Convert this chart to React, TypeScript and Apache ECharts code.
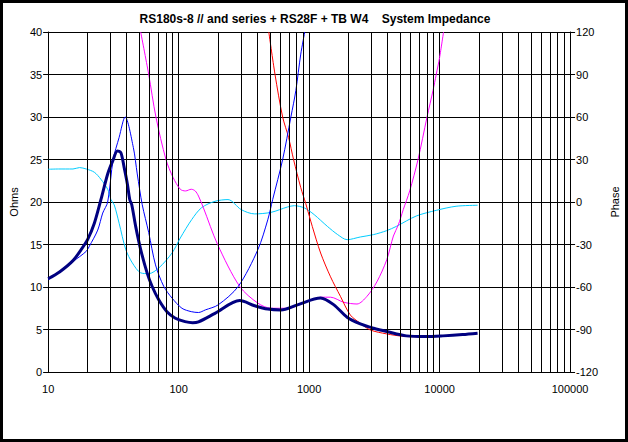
import React, { useEffect, useRef } from "react";
import * as echarts from "echarts";

const titleText = "RS180s-8 // and series + RS28F + TB W4    System Impedance";
const ohmsTicks = { min: 0, max: 40, interval: 5 };
const phaseTicks = { min: -120, max: 120, interval: 30 };
const minorGridFreqs = [
  20, 30, 40, 50, 60, 70, 80, 90,
  200, 300, 400, 500, 600, 700, 800, 900,
  2000, 3000, 4000, 5000, 6000, 7000, 8000, 9000,
  20000, 30000, 40000, 50000, 60000, 70000, 80000, 90000,
];

// System impedance (navy, thick) [Hz, ohms]
const systemImpedance = [
  [10, 10.97], [12.3, 11.8], [15.5, 13.1], [17.9, 14.4], [20.1, 15.6], [22.6, 17.5],
  [25.4, 20.3], [28.6, 23.3], [31.2, 24.8], [34, 26.0], [36.1, 25.8], [38.2, 24.1],
  [40.5, 22.1], [42.2, 20.3], [43.7, 19.7], [46.9, 17.1], [51.2, 14.4], [57.5, 11.6],
  [62.7, 10.06], [70.4, 8.5], [81.4, 7.1], [94.4, 6.33], [112, 5.93], [128, 5.8],
  [142, 5.9], [190, 6.9], [294, 8.4], [382, 7.8], [482, 7.4], [608, 7.3], [814, 7.9],
  [1225, 8.7], [1549, 7.9], [1955, 6.45], [2467, 5.66], [3121, 5.15], [3935, 4.76],
  [5570, 4.25], [7900, 4.17], [10600, 4.25], [15000, 4.4], [19550, 4.56],
];

// Woofer impedance (blue, thin)
const wooferImpedance = [
  [10, 10.85], [15.5, 13.0], [19.6, 14.2], [20.7, 14.8], [24, 16.7], [26.2, 18.7],
  [28.6, 20.0], [31.5, 25.0], [35, 27.6], [38.9, 30.0], [45, 26.4], [48.2, 23.3],
  [52.6, 19.7], [59, 16.4], [66.5, 12.6], [77, 10.06], [89, 8.7], [106, 7.5],
  [125, 7.1], [142, 7.0], [160, 7.3], [201, 7.9], [286, 10.06], [405, 14.4],
  [482, 17.9], [526, 20.3], [627, 25.0], [725, 30.0], [791, 33.1], [863, 37.4], [926, 40],
];

// Tweeter impedance (red)
const tweeterImpedance = [
  [491, 40], [548, 35], [627, 30], [696, 27.6], [760, 25.0], [863, 21.7], [943, 19.8],
  [1059, 17.1], [1225, 14.0], [1459, 11.2], [1738, 8.9], [2071, 6.7], [2467, 5.74],
  [2938, 4.95], [3935, 4.48], [5265, 4.2], [7030, 4.15], [8000, 4.15],
];

// Third branch impedance (magenta)
const midImpedance = [
  [51.2, 40], [59, 35], [67, 30], [80, 25], [90.6, 22.9], [103, 21.5], [113, 21.3],
  [125, 21.5], [134, 21.3], [142, 20.7], [155, 19.3], [199, 15.0], [294, 10.06],
  [405, 8.1], [511, 7.5], [684, 7.5], [970, 8.3], [1225, 8.8], [1459, 8.8],
  [1845, 8.2], [2328, 8.0], [2775, 8.9], [3305, 10.6], [3935, 13.2], [4426, 16.0],
  [4826, 17.3], [5265, 19.1], [5900, 21.3], [6834, 25.0], [8013, 30.0], [8898, 33.1],
  [9424, 35.0], [10000, 37.0], [10720, 40],
];

// System phase (cyan) [Hz, degrees]
const systemPhase = [
  [10, 23.1], [12, 23.3], [15.5, 23.3], [17.4, 24.3], [19.6, 23.3], [22.6, 21],
  [25.4, 16], [28.6, 9], [30.3, 1.7], [32.1, -2], [35, -15], [39.4, -33.7],
  [44.2, -43], [51.2, -50], [59, -50.6], [70.4, -46.6], [89, -36], [103, -25.4],
  [126, -12.4], [150, -4], [190, 0.5], [239, 1.7], [302, -5.4], [382, -8.4],
  [511, -7.3], [684, -3.5], [770, -2.6], [920, -4.2], [1093, -8.9], [1380, -17.2],
  [1655, -23], [1955, -26.6], [2467, -24.7], [3121, -23], [3935, -20.2], [4665, -17.2],
  [6620, -9.9], [9424, -5.9], [13370, -3], [19550, -2.3],
];

const FONT = "'Liberation Sans', Arial, sans-serif";

export default function App() {
  const ref = useRef<HTMLDivElement>(null);

  useEffect(() => {
    document.body.style.margin = "0";
    if (!ref.current) return;
    const chart = echarts.init(ref.current, undefined, { renderer: "svg" });
    const lineBase = {
      type: "line" as const,
      showSymbol: false,
      symbol: "none",
      smooth: 0.3,
      clip: true,
      silent: true,
    };
    chart.setOption({
      animation: false,
      backgroundColor: "#ffffff",
      title: {
        text: titleText,
        left: 310,
        textAlign: "center",
        top: 8,
        textStyle: { fontFamily: FONT, fontSize: 12, fontWeight: "bold", color: "#000" },
      },
      grid: { left: 48, right: 55, top: 32, bottom: 70 },
      xAxis: {
        type: "log",
        logBase: 10,
        min: 10,
        max: 100000,
        axisLine: { show: true, lineStyle: { color: "#000", width: 1 } },
        axisTick: { show: false },
        splitLine: { show: true, lineStyle: { color: "#000", width: 1 } },
        axisLabel: {
          color: "#000",
          fontFamily: FONT,
          fontSize: 11,
          margin: 11,
          formatter: (v: number) => String(Math.round(v)),
        },
      },
      yAxis: [
        {
          type: "value",
          ...ohmsTicks,
          name: "Ohms",
          nameLocation: "middle",
          nameRotate: 90,
          nameGap: 24,
          nameTextStyle: { fontFamily: FONT, fontSize: 11, color: "#000" },
          axisLine: { show: true, lineStyle: { color: "#000", width: 1 } },
          axisTick: { show: true, length: 5, lineStyle: { color: "#000" } },
          splitLine: { show: true, lineStyle: { color: "#000", width: 1 } },
          axisLabel: { color: "#000", fontFamily: FONT, fontSize: 11, margin: 6 },
        },
        {
          type: "value",
          ...phaseTicks,
          name: "Phase",
          nameLocation: "middle",
          nameRotate: 90,
          nameGap: 32,
          nameTextStyle: { fontFamily: FONT, fontSize: 11, color: "#000" },
          position: "right",
          axisLine: { show: true, lineStyle: { color: "#000", width: 1 } },
          axisTick: { show: true, length: 5, lineStyle: { color: "#000" } },
          splitLine: { show: false },
          axisLabel: { color: "#000", fontFamily: FONT, fontSize: 11, margin: 6 },
        },
      ],
      graphic: [
        {
          type: "rect",
          shape: { x: 1.5, y: 1.5, width: 625, height: 439 },
          style: { fill: "none", stroke: "#000", lineWidth: 3 },
          silent: true,
        },
      ],
      series: [
        {
          type: "line",
          data: [],
          silent: true,
          markLine: {
            silent: true,
            symbol: "none",
            label: { show: false },
            lineStyle: { color: "#000", width: 1, type: "solid" },
            data: minorGridFreqs.map((f) => ({ xAxis: f })),
          },
        },
        { ...lineBase, name: "Phase", data: systemPhase, yAxisIndex: 1, lineStyle: { color: "#00CCFF", width: 1 } },
        { ...lineBase, name: "Mid", data: midImpedance, lineStyle: { color: "#FF00FF", width: 1 } },
        { ...lineBase, name: "Tweeter", data: tweeterImpedance, lineStyle: { color: "#FF0000", width: 1 } },
        { ...lineBase, name: "Woofer", data: wooferImpedance, lineStyle: { color: "#0000FF", width: 1 } },
        { ...lineBase, name: "System", data: systemImpedance, lineStyle: { color: "#000080", width: 3 } },
      ],
    });
    return () => chart.dispose();
  }, []);

  return <div ref={ref} style={{ width: 628, height: 442 }} />;
}
